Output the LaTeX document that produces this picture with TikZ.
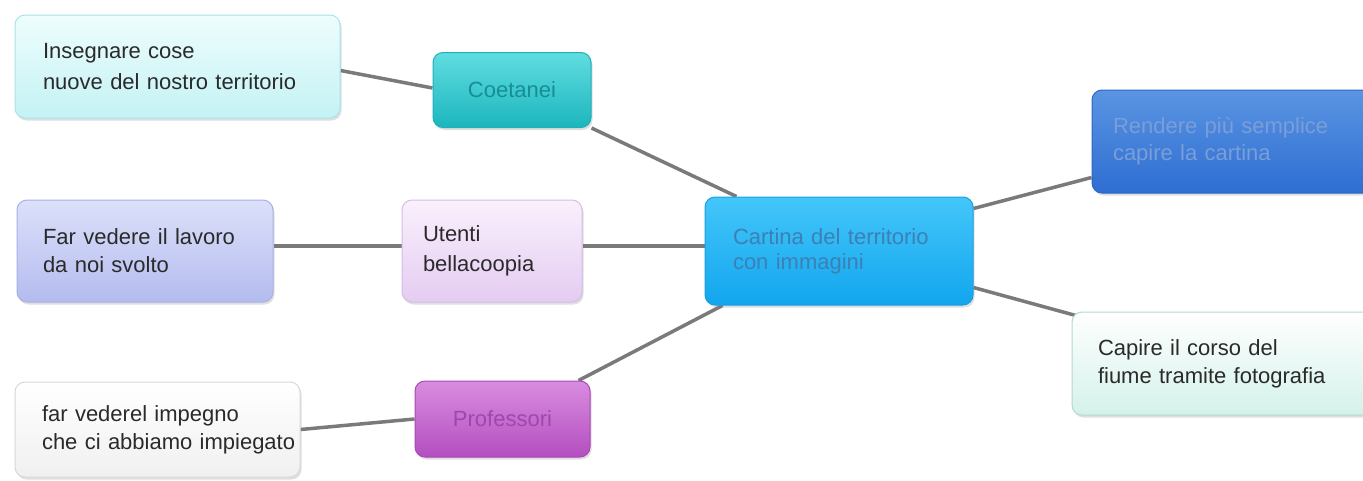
\documentclass[tikz,border=0pt]{standalone}
\usepackage{fontspec}
\setmainfont{Liberation Sans}
\usetikzlibrary{calc,shadows,backgrounds}
\definecolor{txt}{HTML}{2A2A2A}
\definecolor{lnk}{HTML}{7A7A7A}
\definecolor{bAt}{HTML}{EEFDFD}\definecolor{bAb}{HTML}{C4F2F4}\definecolor{bAd}{HTML}{A8E4E8}
\definecolor{coT}{HTML}{60DDE0}\definecolor{coB}{HTML}{1CB6BE}\definecolor{coD}{HTML}{20B0B8}\definecolor{coX}{HTML}{178E95}
\definecolor{bBt}{HTML}{DCE0FA}\definecolor{bBb}{HTML}{B4BCEE}\definecolor{bBd}{HTML}{A8B0E8}
\definecolor{utT}{HTML}{FAF0FC}\definecolor{utB}{HTML}{E4CCF2}\definecolor{utD}{HTML}{D4BCE6}
\definecolor{bCt}{HTML}{FFFFFF}\definecolor{bCb}{HTML}{F0F0F0}\definecolor{bCd}{HTML}{D8D8D8}
\definecolor{prT}{HTML}{D98CE0}\definecolor{prB}{HTML}{B44EC0}\definecolor{prD}{HTML}{A848B4}\definecolor{prX}{HTML}{9C48AC}
\definecolor{caT}{HTML}{44C6FA}\definecolor{caB}{HTML}{12A6EE}\definecolor{caD}{HTML}{1A9EE0}\definecolor{caX}{HTML}{3C80B4}
\definecolor{reT}{HTML}{5A94E2}\definecolor{reB}{HTML}{2E6ED2}\definecolor{reD}{HTML}{2C66C4}\definecolor{reX}{HTML}{7A9ED8}
\definecolor{cpT}{HTML}{FFFFFF}\definecolor{cpB}{HTML}{D4F2EA}\definecolor{cpD}{HTML}{B4D8D0}
\tikzset{
  mbox/.style={rectangle, rounded corners=10pt, line width=1pt, inner ysep=0pt,
    align=left, text=txt, anchor=center,
    drop shadow={opacity=0.25, shadow xshift=1.5pt, shadow yshift=-2.5pt}},
  conn/.style={draw=lnk, line width=3.5pt},
}
\begin{document}
\begin{tikzpicture}[x=1pt,y=-1pt]
\useasboundingbox (0,0) rectangle (1363,480);
% nodes
\node[mbox, top color=bAt, bottom color=bAb, draw=bAd, minimum width=325pt, minimum height=103pt,
  inner xsep=28pt, text width=269pt, font=\fontsize{22}{31}\selectfont] (b1) at (177.5,66.5)
  {\mbox{Insegnare cose}\\\mbox{nuove del nostro territorio}};
\node[mbox, top color=coT, bottom color=coB, draw=coD, minimum width=158pt, minimum height=75pt,
  align=center, text=coX, font=\fontsize{22}{26}\selectfont] (coet) at (512,90) {Coetanei};
\node[mbox, top color=bBt, bottom color=bBb, draw=bBd, minimum width=256pt, minimum height=102pt,
  inner xsep=26pt, text width=204pt, font=\fontsize{22}{28}\selectfont] (b2) at (145,251)
  {\mbox{Far vedere il lavoro}\\\mbox{da noi svolto}};
\node[mbox, top color=utT, bottom color=utB, draw=utD, minimum width=180pt, minimum height=102pt,
  inner xsep=21pt, text width=138pt, font=\fontsize{22}{30}\selectfont] (ut) at (492,251)
  {\mbox{Utenti}\\\mbox{bellacoopia}};
\node[mbox, top color=bCt, bottom color=bCb, draw=bCd, minimum width=285pt, minimum height=95pt,
  inner xsep=27pt, text width=231pt, font=\fontsize{22}{28}\selectfont] (b3) at (157.5,429.5)
  {\mbox{far vederel impegno}\\\mbox{che ci abbiamo impiegato}};
\node[mbox, top color=prT, bottom color=prB, draw=prD, minimum width=175pt, minimum height=76pt,
  align=center, text=prX, font=\fontsize{22}{26}\selectfont] (prof) at (502.5,419) {Professori};
\node[mbox, top color=caT, bottom color=caB, draw=caD, minimum width=268pt, minimum height=108pt,
  inner xsep=28pt, text width=212pt, text=caX, font=\fontsize{22}{25}\selectfont] (cart) at (839,251)
  {\mbox{Cartina del territorio}\\\mbox{con immagini}};
\node[mbox, top color=reT, bottom color=reB, draw=reD, minimum width=300pt, minimum height=103pt,
  inner xsep=21pt, text width=258pt, text=reX, font=\fontsize{22}{27}\selectfont] (rend) at (1242,141.5)
  {\mbox{Rendere più semplice}\\\mbox{capire la cartina}};
\node[mbox, top color=cpT, bottom color=cpB, draw=cpD, minimum width=313pt, minimum height=103pt,
  inner xsep=26pt, text width=261pt, font=\fontsize{22}{28}\selectfont] (cap) at (1228.5,363.5)
  {\mbox{Capire il corso del}\\\mbox{fiume tramite fotografia}};
% connectors
\begin{scope}[on background layer]
\draw[conn] ($(b1.east)+(0pt,-4pt)$) -- ($(coet.west)+(0pt,2pt)$);
\draw[conn] ($(b2.east)+(0pt,5pt)$) -- ($(ut.west)+(0pt,5pt)$);
\draw[conn] (b3.east) -- (prof.west);
\draw[conn] (coet.south east) -- ($(cart.north west)+(32pt,0pt)$);
\draw[conn] ($(ut.east)+(0pt,5pt)$) -- ($(cart.west)+(0pt,5pt)$);
\draw[conn] ($(prof.north east)+(-12pt,0pt)$) -- ($(cart.south west)+(18pt,0pt)$);
\draw[conn] ($(cart.north east)+(0pt,-12pt)$) -- ($(rend.south west)+(0pt,16pt)$);
\draw[conn] ($(cart.south east)+(0pt,18pt)$) -- ($(cap.north west)+(8pt,-5pt)$);
\end{scope}
\end{tikzpicture}
\end{document}
